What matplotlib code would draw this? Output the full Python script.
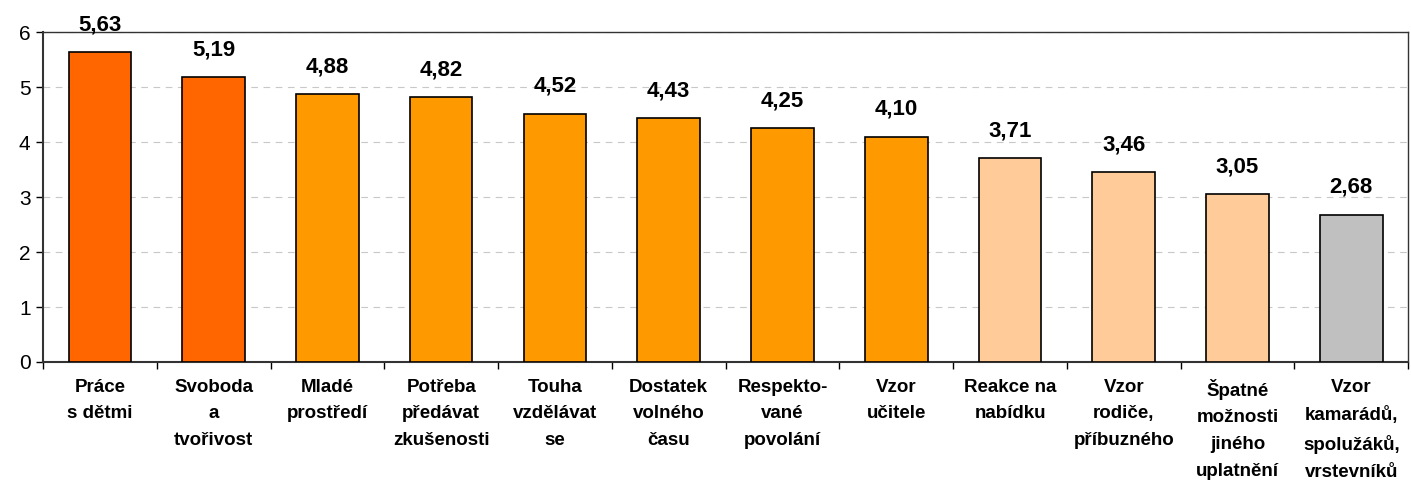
import numpy as np
import matplotlib.pyplot as plt

categories = [
    "Práce\ns dětmi",
    "Svoboda\na\ntvořivost",
    "Mladé\nprostředí",
    "Potřeba\npředávat\nzkušenosti",
    "Touha\nvzdělávat\nse",
    "Dostatek\nvolného\nčasu",
    "Respekto-\nvané\npovolání",
    "Vzor\nučitele",
    "Reakce na\nnabídku",
    "Vzor\nrodiče,\npříbuzného",
    "Špatné\nmožnosti\njiného\nuplatnění",
    "Vzor\nkamarádů,\nspolužáků,\nvrstevníků",
]
values = [5.63, 5.19, 4.88, 4.82, 4.52, 4.43, 4.25, 4.10, 3.71, 3.46, 3.05, 2.68]
colors = ["#FF6600"] * 2 + ["#FF9900"] * 6 + ["#FFCC99"] * 3 + ["#C0C0C0"]

plt.rcParams['font.family'] = ['Liberation Sans', 'DejaVu Sans']

fig = plt.figure(figsize=(14.11, 4.87), dpi=100)
ax = fig.add_axes([0.0305, 0.2567, 0.9675, 0.6773])

x = np.arange(len(values))
bars = ax.bar(x, values, width=0.55, color=colors, edgecolor="black", linewidth=1.2, zorder=3)

for xi, v in zip(x, values):
    ax.annotate(f"{v:.2f}".replace(".", ","), (xi, v), xytext=(0, 12),
                textcoords="offset points", ha="center", va="bottom",
                fontsize=16, fontweight="bold", annotation_clip=False)

ax.set_xlim(-0.5, len(values) - 0.5)
ax.set_ylim(0, 6)
ax.set_yticks(range(0, 7))
ax.tick_params(axis="y", labelsize=15, length=5, width=1, pad=4)
ax.yaxis.grid(True, linestyle=(0, (6, 5)), color="#C8C8C8", linewidth=0.8, zorder=0)

# category boundaries as ticks, labels at centres
ax.set_xticks(np.arange(-0.5, len(values) + 0.5, 1.0))
ax.set_xticklabels([])
ax.tick_params(axis="x", length=5, width=1, direction="out")
ax.set_xticks(x, minor=True)
ax.set_xticklabels(categories, minor=True, fontsize=13.5, fontweight="bold",
                   linespacing=1.75, va="top")
ax.tick_params(axis="x", which="minor", length=0, pad=12)

for s in ax.spines.values():
    s.set_color("#333333")
    s.set_linewidth(1)
ax.spines["left"].set_linewidth(1.5)
ax.spines["bottom"].set_linewidth(1.5)

fig.savefig("out.png", dpi=100)
